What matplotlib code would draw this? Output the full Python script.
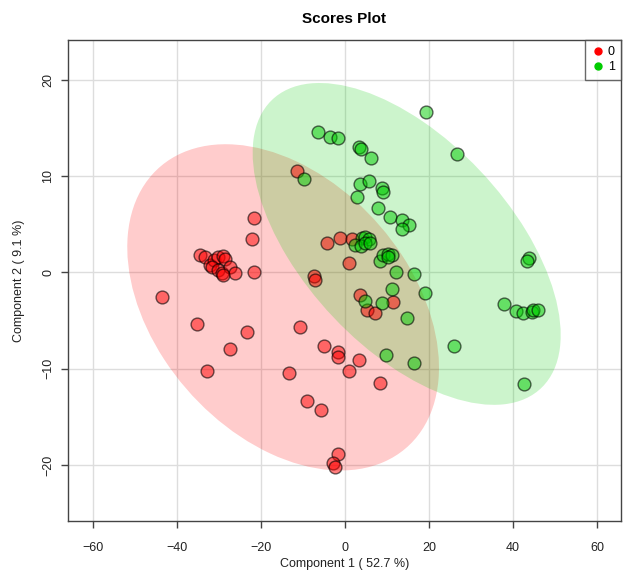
import numpy as np
import matplotlib
matplotlib.use("Agg")
import matplotlib.pyplot as plt
from matplotlib.patches import Ellipse
from matplotlib.lines import Line2D

plt.rcParams['font.family'] = ['Liberation Sans', 'DejaVu Sans']

# scores, group 0 (red)
red_x = [-11.5, -21.8, -22.2, -21.8, -43.6, -35.3, -23.3, -27.4, -32.9,
         -34.5, -33.3, -32.1, -31.3, -30.2, -29.0, -28.6, -31.7, -30.2, -29.4, -27.4, -26.2, -29.0,
         -4.4, -1.2, 1.6, 1.0, -7.5, -7.1, 3.6, 11.5, 5.3, 7.1,
         -10.7, -13.4, -9.1, -5.0, -1.8, -1.8, 3.4, 1.0, 8.3, -5.7, -1.6, -2.8, -2.5]
red_y = [10.5, 5.6, 3.5, 0.0, -2.6, -5.4, -6.2, -8.0, -10.2,
         1.8, 1.6, 0.8, 1.3, 1.6, 1.7, 1.4, 0.5, 0.2, -0.1, 0.6, -0.1, -0.3,
         3.0, 3.6, 3.5, 1.0, -0.4, -0.8, -2.4, -3.1, -3.9, -4.2,
         -5.7, -10.4, -13.4, -7.6, -8.3, -8.8, -9.1, -10.2, -11.5, -14.3, -18.8, -19.8, -20.2]

# group 1 (green)
green_x = [19.3, -6.5, -3.6, -1.6, 3.3, 3.7, 6.2, 26.6, -9.9, 3.6, 5.6, 8.7, 8.9, 2.8,
           7.9, 10.6, 13.5, 15.1, 13.5, 4.0, 4.8, 5.8, 2.4, 3.7, 4.8, 6.0,
           8.3, 9.1, 10.3, 11.1, 10.1, 12.1, 16.3, 11.1, 19.1, 4.8, 8.7, 14.8,
           43.9, 43.4, 37.9, 40.7, 42.3, 44.4, 44.8, 45.9, 26.0, 9.8, 16.3, 42.5]
green_y = [16.6, 14.6, 14.0, 13.9, 13.0, 12.8, 11.9, 12.3, 9.7, 9.2, 9.5, 8.7, 8.3, 7.8,
           6.7, 5.7, 5.4, 4.9, 4.5, 3.6, 3.7, 3.5, 2.8, 2.7, 3.0, 3.0,
           1.2, 1.8, 1.9, 1.8, 1.6, 0.0, -0.2, -1.7, -2.1, -3.0, -3.2, -4.7,
           1.5, 1.2, -3.3, -4.0, -4.2, -4.1, -3.9, -3.9, -7.6, -8.6, -9.4, -11.6]

groups = ["0", "1"]
xticks = [-60, -40, -20, 0, 20, 40, 60]
yticks = [-20, -10, 0, 10, 20]


def conf_ellipse(x, y, color):
    # 95% ellipse from the group covariance
    pts = np.column_stack([x, y])
    mu = pts.mean(axis=0)
    cov = np.cov(pts, rowvar=False)
    vals, vecs = np.linalg.eigh(cov)
    order = vals.argsort()[::-1]
    vals, vecs = vals[order], vecs[:, order]
    k = np.sqrt(5.991)
    ang = np.degrees(np.arctan2(vecs[1, 0], vecs[0, 0]))
    return Ellipse(mu, 2 * k * np.sqrt(vals[0]), 2 * k * np.sqrt(vals[1]), angle=ang,
                   facecolor=color, alpha=0.2, edgecolor='none', zorder=1)


fig = plt.figure(figsize=(6.36, 5.73), dpi=100)
ax = fig.add_axes([68 / 636, 52 / 573, 553 / 636, 481 / 573])

ax.add_patch(conf_ellipse(red_x, red_y, '#FF0000'))
ax.add_patch(conf_ellipse(green_x, green_y, '#00CC00'))

ax.scatter(red_x, red_y, s=85, facecolor=(1, 0, 0, 0.5), edgecolor=(0, 0, 0, 0.6), linewidth=1, zorder=3)
ax.scatter(green_x, green_y, s=85, facecolor=(0, 0.8, 0, 0.5), edgecolor=(0, 0, 0, 0.6), linewidth=1, zorder=3)

ax.set_xlim(-66, 65.7)
ax.set_ylim(-25.8, 24.1)
ax.set_xticks(xticks)
ax.set_yticks(yticks)
ax.grid(True, color='#DDDDDD', linewidth=1)
ax.set_axisbelow(True)

for s in ax.spines.values():
    s.set_color('#444444')
    s.set_linewidth(1)
ax.tick_params(axis='both', direction='out', length=5, width=1, color='#444444',
               labelsize=9, labelcolor='#222222')
ax.tick_params(axis='x', pad=10)
ax.tick_params(axis='y', pad=5)
for lab in ax.get_yticklabels():
    lab.set_rotation(90)
    lab.set_va('center')

ax.set_xlabel("Component 1 ( 52.7 %)", fontsize=9, color='#222222', labelpad=3)
ax.set_ylabel("Component 2 ( 9.1 %)", fontsize=9, color='#222222', labelpad=12)
ax.set_title("Scores Plot", fontsize=11, fontweight='bold', pad=12)

handles = [Line2D([], [], marker='o', linestyle='', color=c, markersize=5)
           for c in ['#FF0000', '#00CC00']]
leg = ax.legend(handles, groups, loc='upper right', fontsize=9, frameon=True, fancybox=False,
                borderaxespad=0, handletextpad=0.3, borderpad=0.5, labelspacing=0.25,
                handlelength=1.0)
leg.get_frame().set_edgecolor('#444444')
leg.get_frame().set_linewidth(1)

fig.savefig("out.png", dpi=100)
